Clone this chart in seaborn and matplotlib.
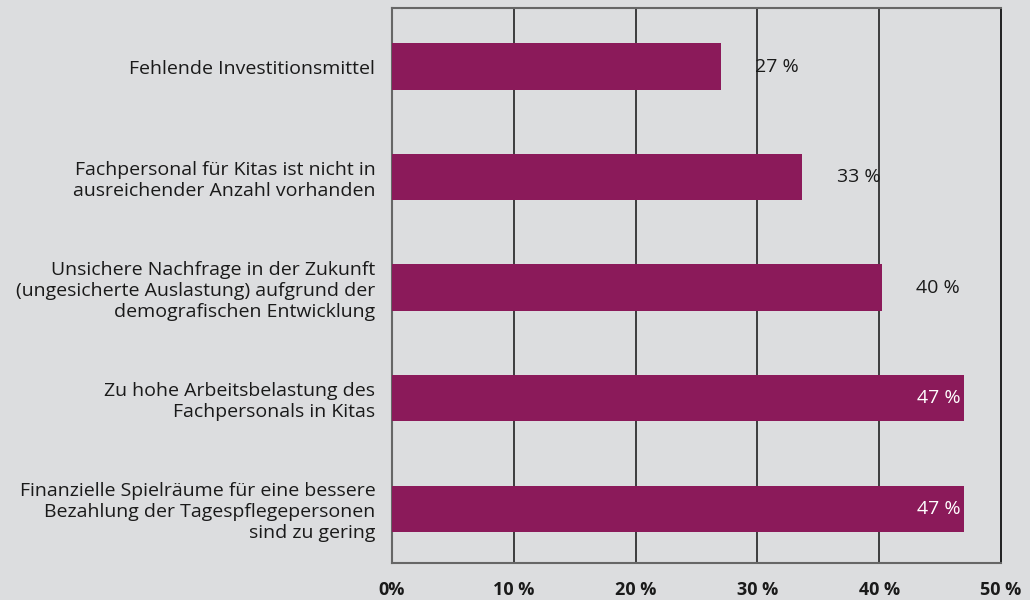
import matplotlib
matplotlib.use("Agg")
import matplotlib.pyplot as plt
import seaborn as sns
import pandas as pd

categories = [
    "Fehlende Investitionsmittel",
    "Fachpersonal für Kitas ist nicht in\nausreichender Anzahl vorhanden",
    "Unsichere Nachfrage in der Zukunft\n(ungesicherte Auslastung) aufgrund der\ndemografischen Entwicklung",
    "Zu hohe Arbeitsbelastung des\nFachpersonals in Kitas",
    "Finanzielle Spielräume für eine bessere\nBezahlung der Tagespflegepersonen\nsind zu gering",
]
values = [27, 33.7, 40.2, 47, 47]
value_labels = ["27 %", "33 %", "40 %", "47 %", "47 %"]
x_ticks = [0, 10, 20, 30, 40, 50]
x_ticklabels = ["0%", "10 %", "20 %", "30 %", "40 %", "50 %"]

bg = "#dcdddf"
bar_color = "#8b1a5a"

sns.set_theme(style="white")
plt.rcParams["font.family"] = ["Open Sans", "DejaVu Sans"]

df = pd.DataFrame({"cat": categories, "val": values})

fig = plt.figure(figsize=(10.3, 6), dpi=100, facecolor=bg)
ax = fig.add_axes([392 / 1030, 37 / 600, 609 / 1030, 555 / 600])
ax.set_facecolor(bg)

sns.barplot(data=df, x="val", y="cat", color=bar_color, saturation=1,
            width=0.42, linewidth=0, ax=ax, zorder=3)

ax.set_xlim(0, 50)
ax.set_ylim(4.49, -0.53)
ax.set_xticks(x_ticks)
ax.set_xticklabels(x_ticklabels, fontsize=13, fontweight="bold", color="#1a1a1a")
ax.tick_params(axis="x", length=0, pad=13)
ax.tick_params(axis="y", length=0, pad=12, labelsize=14, labelcolor="#1a1a1a")
for lbl in ax.get_yticklabels():
    lbl.set_horizontalalignment("right")
    lbl.set_linespacing(1.2)
ax.set_xlabel("")
ax.set_ylabel("")

for x in x_ticks[1:-1]:
    ax.axvline(x, color="#111111", lw=1.1, zorder=1)

for side in ["left", "top", "bottom"]:
    ax.spines[side].set_color("#666666")
    ax.spines[side].set_linewidth(1.5)
ax.spines["right"].set_color("#111111")
ax.spines["right"].set_linewidth(1.3)

for i, (v, t) in enumerate(zip(values, value_labels)):
    if v > 45:
        ax.text(v - 0.3, i, t, ha="right", va="center", color="white",
                fontsize=14, zorder=4)
    else:
        ax.text(v + 2.8, i, t, ha="left", va="center", color="#1a1a1a",
                fontsize=14, zorder=4)

fig.savefig("out.png", dpi=100, facecolor=bg)
